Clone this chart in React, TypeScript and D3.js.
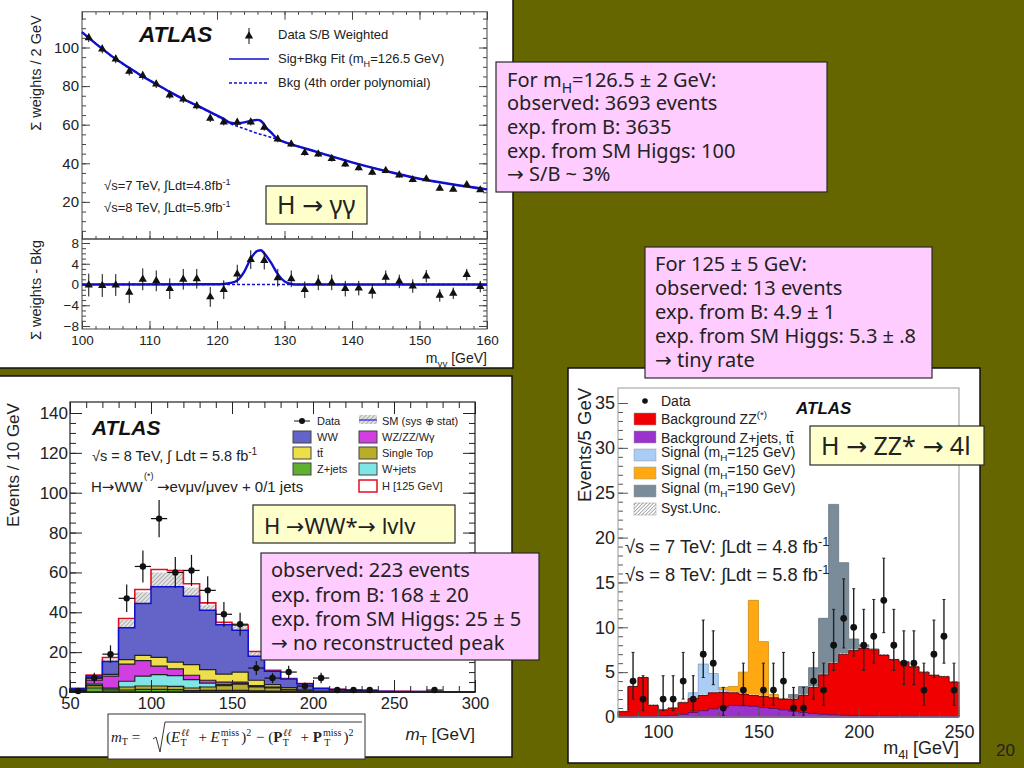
import { useRef, useEffect } from 'react';
import * as d3 from 'd3';

// H -> gamma gamma, weighted mass spectrum
const yyMass = [101, 103, 105, 107, 109, 111, 113, 115, 117, 119, 121, 123, 125, 127, 129, 131, 133, 135, 137, 139, 141, 143, 145, 147, 149, 151, 153, 155, 157, 159];
const yyData = [105, 99.2, 94, 87.6, 85.4, 81, 75.4, 73.3, 69.8, 63.3, 61.4, 61.2, 61.4, 58.6, 52.6, 50, 45.5, 44.8, 42.4, 39.6, 37.7, 35.3, 36.2, 33.9, 31.5, 31.9, 27, 26.5, 28.8, 26.2];
const yyResid = [-0.1, -0.2, -0.1, -1.5, 1, 0.7, -0.8, 1, 1.1, -2.4, -1, 2, 4.8, 4.6, 1.3, 1.1, -1, 0.4, 0.4, -0.8, -0.7, -1.3, 1.4, 0.6, -0.3, 1.6, -2.1, -1.7, 1.9, -0.4];
const yyErr = [2.2, 2.2, 2.1, 2.1, 2.1, 2, 2, 2, 1.9, 1.9, 1.8, 1.8, 1.8, 1.7, 1.7, 1.6, 1.6, 1.5, 1.5, 1.5, 1.4, 1.4, 1.3, 1.3, 1.3, 1.2, 1.2, 1.1, 1.1, 1.1];
const fitMass = [100, 101, 103, 105, 107, 109, 111, 113, 115, 117, 119, 121, 122, 123, 124, 125, 126, 126.5, 127.4, 128, 129, 130, 131, 132, 135, 140, 145, 150, 155, 160];
const fitValues = [108, 105, 99.3, 94, 89.5, 85, 81, 77, 73.3, 70, 66.5, 63, 61, 60.7, 61.2, 62, 62.5, 62, 58, 56, 52.5, 51, 49.8, 48.8, 45.7, 40.5, 36, 32, 29, 26.5];
const bkgMass = [100, 105, 110, 115, 120, 122, 124, 126, 128, 130, 135, 140, 145, 150, 155, 160];
const bkgValues = [108, 94, 83, 73.3, 64.5, 60.5, 58, 55.5, 53.5, 51, 45.7, 40.5, 36, 32, 29, 26.5];
const sigMass = [100, 120, 121, 122, 123, 124, 125, 126, 126.5, 127, 128, 129, 130, 131, 132, 160];
const sigValues = [0, 0.05, 0.1, 0.3, 0.8, 2.4, 5, 6.5, 6.6, 6, 4.2, 2, 0.6, 0.1, 0, 0];

// H -> WW*, transverse mass, 10 GeV bins from 50
const wwBins = d3.range(50, 300, 10);
const wwZjets = [0.3, 2, 1, 1, 1.3, 1.3, 1.2, 0.7, 0.8, 0.8, 0.8, 0.6, 0.5, 0.3, 0.2, 0, 0, 0, 0, 0, 0, 0, 0, 0, 0];
const wwSingleTop = [0.3, 1.2, 0.6, 1.5, 1.7, 1.7, 1.6, 1.3, 1.7, 2.4, 3.2, 1.9, 1.5, 0.7, 0.4, 0.1, 0, 0, 0, 0, 0, 0, 0, 0, 0];
const wwWjets = [0.1, 0.8, 0.4, 2.9, 5, 5.7, 5.4, 4.2, 2, 0.5, 0.2, 0.3, 0.3, 0, 0, 0, 0, 0, 0, 0, 0, 0, 0, 0, 0];
const wwDiboson = [0.2, 2, 6, 8.6, 7.7, 4.3, 3.4, 2.2, 1.4, 1.3, 0.8, 0.4, 0.2, 0.3, 0, 0, 0, 0, 0, 0, 0, 0, 0, 0, 0];
const wwTop = [0.3, 1, 0.8, 2.2, 2.7, 4.4, 3.4, 5.3, 5.3, 4, 5, 2.7, 1.2, 0.9, 0.5, 0.3, 0.2, 0, 0, 0, 0, 0, 0, 0, 0];
const wwWW = [0.5, 1, 6.5, 16, 26, 35.4, 37.8, 34.3, 29.8, 24.8, 21, 12.1, 6.7, 4.3, 3, 1.3, 1.1, 0.8, 0.6, 0.4, 0.3, 0.2, 0.2, 0.1, 0.1];
const wwUnc = [0, 0.5, 1, 4, 5.6, 7.2, 7.2, 4.5, 2.5, 0.7, 2, 2, 0.5, 0.3, 0.2, 0.1, 0, 0, 0, 0, 0, 0, 0, 0, 0];
const wwHiggs = [0, 0, 1, 0.7, 1.4, 1.5, 1, 1.8, 1.2, 0.5, 0.5, 0.3, 0, 0, 0, 0, 0, 0, 0, 0, 0, 0, 0, 0, 0];
const wwDataMt = [55, 65, 75, 85, 95, 105, 115, 125, 135, 145, 155, 165, 175, 185, 195, 205, 215, 225, 235, 275];
const wwData = [0.5, 7, 19, 47, 63, 87, 60, 61, 51, 39, 34, 12, 7, 10, 3, 7, 1, 1, 1, 1];
const wwDataErr = [1, 2.6, 4.4, 6.9, 8, 9.3, 7.7, 7.8, 7.1, 6.2, 5.8, 3.5, 2.6, 3.2, 1.7, 2.6, 1, 1, 1, 1];

// H -> ZZ* -> 4l, 5 GeV bins from 80
const zzBins = d3.range(80, 250, 5);
const zzPurple = [0.03, 0.03, 0.05, 0.05, 0.1, 0.2, 0.3, 0.5, 0.7, 0.9, 1.1, 1.3, 1.25, 1.2, 1.05, 0.95, 0.8, 0.65, 0.5, 0.4, 0.3, 0.25, 0.2, 0.15, 0.12, 0.1, 0.1, 0.08, 0.07, 0.06, 0.06, 0.05, 0.05, 0.04];
const zzRedTop = [0.6, 3.4, 4.4, 1.3, 0.8, 1, 1.6, 2.05, 2.4, 2.7, 2.75, 2.7, 2.55, 2.4, 2.3, 2.15, 2, 2, 2.4, 3.3, 4.7, 6, 7, 7.4, 7.65, 7.5, 6.9, 6.4, 6.15, 5.6, 5, 4.65, 4.5, 3.9];
const zzSig125 = [0, 0, 0, 0, 0, 0, 0.05, 0.65, 3.5, 2.15, 0.3, 0, 0, 0, 0, 0, 0, 0, 0, 0, 0, 0, 0, 0, 0, 0, 0, 0, 0, 0, 0, 0, 0, 0];
const zzSig150 = [0, 0, 0, 0, 0, 0, 0, 0, 0, 0, 0.55, 0.7, 2.45, 10.6, 6.1, 0.35, 0, 0, 0, 0, 0, 0, 0, 0, 0, 0, 0, 0, 0, 0, 0, 0, 0, 0];
const zzSig190 = [0, 0, 0, 0, 0, 0, 0, 0, 0, 0, 0, 0, 0, 0, 0, 0, 0.05, 0.5, 1, 2.2, 6.3, 17.7, 10.2, 1.3, 0.4, 0.1, 0, 0, 0, 0, 0, 0, 0, 0];
const zzDataMass = [87.5, 92.5, 102.5, 107.5, 112.5, 117.5, 122.5, 127.5, 132.5, 142.5, 152.5, 157.5, 162.5, 167.5, 172.5, 177.5, 182.5, 187.5, 192.5, 197.5, 202.5, 207.5, 212.5, 217.5, 222.5, 227.5, 232.5, 237.5, 242.5, 247.5];
const zzData = [4, 2, 2, 2, 4, 2, 7, 6, 1, 3, 3, 3, 4, 1, 1, 4, 3, 8, 11, 10, 8, 9, 13, 8, 6, 6, 3, 7, 9, 3];
const zzErrUp = [3.2, 2.6, 2.6, 2.6, 3.2, 2.6, 3.8, 3.6, 2.3, 3, 3, 3, 3.2, 2.3, 2.3, 3.2, 3, 4, 4.4, 4.3, 4, 4.1, 4.7, 4, 3.6, 3.6, 3, 3.8, 4.1, 3];
const zzErrDown = [2, 1.3, 1.3, 1.3, 2, 1.3, 2.6, 2.4, 0.8, 1.7, 1.7, 1.7, 2, 0.8, 0.8, 2, 1.7, 2.8, 3.3, 3.2, 2.8, 3, 3.6, 2.8, 2.4, 2.4, 1.7, 2.6, 3, 1.7];

// slide text
const yyBoxLines = ['For m_{H}=126.5 ± 2 GeV:', 'observed: 3693 events', 'exp. from B: 3635', 'exp. from SM Higgs: 100', '→ S/B ~ 3%'];
const zzBoxLines = ['For 125 ± 5 GeV:', 'observed: 13 events', 'exp. from B: 4.9 ± 1', 'exp. from SM Higgs: 5.3 ± .8', '→ tiny rate'];
const wwBoxLines = ['observed: 223 events', 'exp. from B: 168 ± 20', 'exp. from SM Higgs: 25 ± 5', '→ no reconstructed peak'];

const SANS = '"Liberation Sans", Arial, sans-serif';
const BOX_FONT = '"Noto Sans", sans-serif';
const INK = '#222';
type Sel = d3.Selection<any, any, any, any>;

// text with _{sub} and ^{sup} parts, arrows taken from DejaVu because the others are tiny
function rich(parent: Sel, x: number, y: number, str: string, size: number, font = SANS, anchor = 'start') {
  const t = parent.append('text').attr('x', x).attr('y', y).attr('font-size', size)
    .attr('font-family', font).attr('fill', INK).attr('text-anchor', anchor);
  let shift = 0;
  str.split(/([_^]\{[^}]*\}|→)/).filter(Boolean).forEach((part) => {
    const m = part.match(/^([_^])\{(.*)\}$/);
    const target = m ? (m[1] === '_' ? size * 0.3 : -size * 0.4) : 0;
    const span = t.append('tspan').attr('dy', target - shift).attr('font-size', m ? size * 0.7 : size).text(m ? m[2] : part);
    if (part === '→') span.attr('font-family', '"DejaVu Sans", sans-serif');
    shift = target;
  });
  return t;
}

function vlabel(parent: Sel, x: number, y: number, str: string, size: number) {
  parent.append('text').attr('transform', `translate(${x},${y}) rotate(-90)`).attr('text-anchor', 'middle')
    .attr('font-size', size).attr('font-family', SANS).attr('fill', INK).text(str);
}

function textBox(parent: Sel, x: number, y: number, w: number, h: number, fill: string) {
  parent.append('rect').attr('x', x).attr('y', y).attr('width', w).attr('height', h)
    .attr('fill', fill).attr('stroke', '#2a2a2a').attr('stroke-width', 1.2);
}

function noteBox(parent: Sel, x: number, y: number, w: number, h: number, lines: string[], textX: number, baselines: number[]) {
  textBox(parent, x, y, w, h, '#ffccff');
  lines.forEach((line, i) => rich(parent, textX, baselines[i], line, 20, BOX_FONT));
}

// one side of a frame: major or minor ticks pointing inwards
function ticks(parent: Sel, side: 'left' | 'right' | 'top' | 'bottom', scale: any, at: number, values: number[], len: number, color: string, label?: { size: number; pad: number }) {
  const make = { left: d3.axisLeft, right: d3.axisRight, top: d3.axisTop, bottom: d3.axisBottom }[side];
  const axis = make(scale).tickValues(values).tickSize(-len).tickSizeOuter(0)
    .tickPadding(label ? label.pad : 0)
    .tickFormat(label ? (d3.format('d') as any) : () => '');
  const horizontal = side === 'left' || side === 'right';
  const g = parent.append('g').attr('transform', horizontal ? `translate(${at},0)` : `translate(0,${at})`).call(axis as any);
  g.select('.domain').remove();
  g.attr('color', color);
  g.selectAll('text').attr('fill', INK).attr('font-family', SANS).attr('font-size', label ? label.size : 1);
}

function hatch(defs: Sel, id: string, back: string, ink: string, gap: number) {
  const p = defs.append('pattern').attr('id', id).attr('width', gap).attr('height', gap)
    .attr('patternUnits', 'userSpaceOnUse').attr('patternTransform', 'rotate(45)');
  p.append('rect').attr('width', gap).attr('height', gap).attr('fill', back);
  p.append('line').attr('x1', 0).attr('y1', 0).attr('x2', 0).attr('y2', gap).attr('stroke', ink).attr('stroke-width', 1);
}

function drawDiphoton(svg: Sel) {
  const g = svg.append('g');
  g.append('rect').attr('x', -2).attr('y', -2).attr('width', 515).attr('height', 370).attr('fill', '#fff').attr('stroke', '#111').attr('stroke-width', 1.5);
  const x = d3.scaleLinear().domain([100, 160]).range([82, 487]);
  const y = d3.scaleLinear().domain([0, 100]).range([240.5, 47.5]);
  const yLow = d3.scaleLinear().domain([-8, 8]).range([326, 243]);
  const frame = '#444';
  const blue = '#1010cc';

  const top = y(118.5);
  const mid = 239;
  const bottom = 329;
  const xMajor = d3.range(100, 161, 10);
  const xMinor = d3.range(100, 161, 2);

  // upper pad
  ticks(g, 'left', y, 82, [20, 40, 60, 80, 100], 8, frame, { size: 15, pad: 3 });
  ticks(g, 'left', y, 82, d3.range(5, 116, 5), 4, frame);
  ticks(g, 'right', y, 487, [20, 40, 60, 80, 100], 8, frame);
  ticks(g, 'right', y, 487, d3.range(5, 116, 5), 4, frame);
  ticks(g, 'top', x, top, xMajor, 8, frame);
  ticks(g, 'top', x, top, xMinor, 3, frame);
  ticks(g, 'bottom', x, mid, xMajor, 8, frame);
  ticks(g, 'bottom', x, mid, xMinor, 3, frame);
  g.append('rect').attr('x', 82).attr('y', top).attr('width', 405).attr('height', mid - top).attr('fill', 'none').attr('stroke', frame).attr('stroke-width', 1);

  const bkgLine = d3.line<number>().x((_, i) => x(bkgMass[i])).y((d) => y(d)).curve(d3.curveMonotoneX);
  const fitLine = d3.line<number>().x((_, i) => x(fitMass[i])).y((d) => y(d)).curve(d3.curveMonotoneX);
  g.append('path').attr('d', bkgLine(bkgValues)).attr('fill', 'none').attr('stroke', blue).attr('stroke-width', 1.6).attr('stroke-dasharray', '3,2');
  g.append('path').attr('d', fitLine(fitValues)).attr('fill', 'none').attr('stroke', blue).attr('stroke-width', 2.4);

  const tri = d3.symbol().type(d3.symbolTriangle).size(30);
  yyData.forEach((v, i) => {
    g.append('line').attr('x1', x(yyMass[i])).attr('x2', x(yyMass[i])).attr('y1', y(v - yyErr[i])).attr('y2', y(v + yyErr[i])).attr('stroke', '#111');
    g.append('path').attr('d', tri()).attr('transform', `translate(${x(yyMass[i])},${y(v)})`).attr('fill', '#111');
  });

  g.append('text').attr('x', 139).attr('y', 42).attr('font-size', 22.5).attr('font-weight', 'bold').attr('font-style', 'italic').attr('font-family', SANS).attr('fill', '#111').text('ATLAS');

  // legend
  g.append('line').attr('x1', 249).attr('x2', 249).attr('y1', 28).attr('y2', 44).attr('stroke', '#111');
  g.append('path').attr('d', tri()).attr('transform', 'translate(249,36)').attr('fill', '#111');
  rich(g, 278, 39, 'Data S/B Weighted', 13);
  g.append('line').attr('x1', 229).attr('x2', 269).attr('y1', 59).attr('y2', 59).attr('stroke', blue).attr('stroke-width', 1.6);
  rich(g, 278, 63, 'Sig+Bkg Fit  (m_{H}=126.5 GeV)', 13);
  g.append('line').attr('x1', 229).attr('x2', 269).attr('y1', 83).attr('y2', 83).attr('stroke', blue).attr('stroke-width', 1.6).attr('stroke-dasharray', '3,2');
  rich(g, 278, 87, 'Bkg (4th order polynomial)', 13);
  rich(g, 104, 190, '√s=7 TeV, ∫Ldt=4.8fb^{-1}', 13);
  rich(g, 104, 212, '√s=8 TeV, ∫Ldt=5.9fb^{-1}', 13);

  vlabel(g, 41, 73, 'Σ weights / 2 GeV', 14.5);
  vlabel(g, 41, 290, 'Σ weights - Bkg', 14.5);

  // residual pad
  ticks(g, 'left', yLow, 82, [-8, -4, 0, 4, 8], 8, frame, { size: 13.5, pad: 3 });
  ticks(g, 'left', yLow, 82, d3.range(-8, 9, 1), 4, frame);
  ticks(g, 'right', yLow, 487, [-8, -4, 0, 4, 8], 8, frame);
  ticks(g, 'right', yLow, 487, d3.range(-8, 9, 1), 4, frame);
  ticks(g, 'bottom', x, bottom, xMajor, 8, frame, { size: 13.5, pad: 6 });
  ticks(g, 'bottom', x, bottom, xMinor, 3, frame);
  g.append('rect').attr('x', 82).attr('y', mid).attr('width', 405).attr('height', bottom - mid).attr('fill', 'none').attr('stroke', frame).attr('stroke-width', 1);

  g.append('line').attr('x1', x(100)).attr('x2', x(160)).attr('y1', yLow(0)).attr('y2', yLow(0)).attr('stroke', blue).attr('stroke-width', 1.4).attr('stroke-dasharray', '3,2');
  const sigLine = d3.line<number>().x((_, i) => x(sigMass[i])).y((d) => yLow(d)).curve(d3.curveMonotoneX);
  g.append('path').attr('d', sigLine(sigValues)).attr('fill', 'none').attr('stroke', blue).attr('stroke-width', 2.4);
  yyResid.forEach((v, i) => {
    g.append('line').attr('x1', x(yyMass[i])).attr('x2', x(yyMass[i])).attr('y1', yLow(v - yyErr[i])).attr('y2', yLow(v + yyErr[i])).attr('stroke', '#111');
    g.append('path').attr('d', tri()).attr('transform', `translate(${x(yyMass[i])},${yLow(v)})`).attr('fill', '#111');
  });

  rich(g, 487, 363, 'm_{γγ} [GeV]', 14, SANS, 'end');
}

function drawWW(svg: Sel) {
  const g = svg.append('g');
  g.append('rect').attr('x', -2).attr('y', 376).attr('width', 514).attr('height', 381).attr('fill', '#fff').attr('stroke', '#111').attr('stroke-width', 1.5);
  const x = d3.scaleLinear().domain([50, 300]).range([70, 475]);
  const y = d3.scaleLinear().domain([0, 140]).range([692, 413]);
  const top = 402;
  const bottom = 692;
  const frame = '#222';

  // stack: Z+jets, single top, W+jets, WZ/ZZ/Wg, top pairs, WW
  const keys = ['zjets', 'stop', 'wjets', 'dib', 'top', 'ww'];
  const colors = ['#5fb030', '#b8ae2a', '#7fe5e5', '#d23fe0', '#ecdf4a', '#6464c8'];
  const table = wwBins.map((b, i) => ({ bin: b, zjets: wwZjets[i], stop: wwSingleTop[i], wjets: wwWjets[i], dib: wwDiboson[i], top: wwTop[i], ww: wwWW[i] }));
  const layers = d3.stack<any>().keys(keys)(table);
  const edge = (i: number) => x(i < wwBins.length ? wwBins[i] : 300);
  const step = (vals: number[]) => [...vals, vals[vals.length - 1]];
  const smTop = wwBins.map((_, i) => layers[5][i][1]);

  const uncArea = d3.area<number>().x((_, i) => edge(i)).y0((_, i) => y(step(smTop)[i])).y1((d) => y(d)).curve(d3.curveStepAfter);
  const redLine = d3.line<number>().x((_, i) => edge(i)).y((d) => y(d)).curve(d3.curveStepAfter);

  g.append('path').attr('d', uncArea(step(smTop.map((v, i) => v + wwUnc[i])))).attr('fill', 'url(#hatchWW)');
  g.append('path').attr('d', redLine(step(smTop.map((v, i) => v + wwUnc[i] + wwHiggs[i])))).attr('fill', 'none').attr('stroke', '#e01020').attr('stroke-width', 1.6);

  [...layers].reverse().forEach((layer) => {
    const c = colors[keys.indexOf(layer.key)];
    const area = d3.area<any>().x((_, i) => edge(i)).y0(y(0)).y1((d) => y(d[1])).curve(d3.curveStepAfter);
    g.append('path').attr('d', area([...layer, layer[layer.length - 1]]))
      .attr('fill', c).attr('stroke', layer.key === 'ww' ? '#1010cc' : '#222').attr('stroke-width', layer.key === 'ww' ? 1.5 : 1.2);
  });

  ticks(g, 'left', y, 70, d3.range(0, 141, 20), 12, frame, { size: 17, pad: 2 });
  ticks(g, 'left', y, 70, d3.range(0, 141, 5), 6, frame);
  ticks(g, 'right', y, 475, d3.range(0, 141, 20), 12, frame);
  ticks(g, 'right', y, 475, d3.range(0, 141, 5), 6, frame);
  ticks(g, 'bottom', x, bottom, d3.range(50, 301, 50), 12, frame, { size: 16.5, pad: 5 });
  ticks(g, 'bottom', x, bottom, d3.range(50, 301, 10), 6, frame);
  ticks(g, 'top', x, top, d3.range(50, 301, 50), 12, frame);
  ticks(g, 'top', x, top, d3.range(50, 301, 10), 6, frame);
  g.append('rect').attr('x', 70).attr('y', top).attr('width', 405).attr('height', bottom - top).attr('fill', 'none').attr('stroke', frame).attr('stroke-width', 1.2);

  wwData.forEach((v, i) => {
    const px = x(wwDataMt[i]);
    g.append('line').attr('x1', px).attr('x2', px).attr('y1', y(v - wwDataErr[i])).attr('y2', y(v + wwDataErr[i])).attr('stroke', '#111').attr('stroke-width', 1.2);
    g.append('line').attr('x1', x(wwDataMt[i] - 5)).attr('x2', x(wwDataMt[i] + 5)).attr('y1', y(v)).attr('y2', y(v)).attr('stroke', '#111').attr('stroke-width', 1.2);
    g.append('circle').attr('cx', px).attr('cy', y(v)).attr('r', 3.2).attr('fill', '#111');
  });

  vlabel(g, 19, 465, 'Events / 10 GeV', 17);
  g.append('text').attr('x', 92).attr('y', 435).attr('font-size', 21).attr('font-weight', 'bold').attr('font-style', 'italic').attr('font-family', SANS).attr('fill', '#111').text('ATLAS');
  rich(g, 92, 461, '√s = 8 TeV, ∫ Ldt = 5.8 fb^{-1}', 14.5);
  rich(g, 91, 492, 'H→WW', 15);
  rich(g, 144, 479, '(*)', 9);
  rich(g, 157, 492, '→evμv/μvev + 0/1 jets', 15);

  // legend
  const swatch = (sx: number, sy: number, fill: string, stroke = '#444') =>
    g.append('rect').attr('x', sx).attr('y', sy).attr('width', 18).attr('height', 12).attr('fill', fill).attr('stroke', stroke);
  g.append('line').attr('x1', 294).attr('x2', 310).attr('y1', 421).attr('y2', 421).attr('stroke', '#111');
  g.append('circle').attr('cx', 302).attr('cy', 421).attr('r', 3).attr('fill', '#111');
  rich(g, 317, 425, 'Data', 11);
  g.append('rect').attr('x', 359).attr('y', 415).attr('width', 18).attr('height', 9).attr('fill', 'url(#hatchWW)');
  g.append('line').attr('x1', 359).attr('x2', 377).attr('y1', 420).attr('y2', 420).attr('stroke', '#2222dd').attr('stroke-width', 1.2);
  rich(g, 382, 425, 'SM (sys ⊕ stat)', 11);
  swatch(293, 431, '#6464c8');
  rich(g, 317, 441, 'WW', 11);
  swatch(359, 431, '#d23fe0');
  rich(g, 382, 441, 'WZ/ZZ/Wγ', 11);
  swatch(293, 447, '#ecdf4a');
  rich(g, 317, 457, 'tt\u0304', 11);
  swatch(359, 447, '#b8ae2a');
  rich(g, 382, 457, 'Single Top', 11);
  swatch(293, 463, '#5fb030');
  rich(g, 317, 473, 'Z+jets', 11);
  swatch(359, 463, '#7fe5e5');
  rich(g, 382, 473, 'W+jets', 11);
  swatch(359, 480, '#fff', '#e01020').attr('stroke-width', 1.5);
  rich(g, 382, 490, 'H [125 GeV]', 11);

  // x title and formula box
  const mt = rich(g, 475, 740, 'm_{T} [GeV]', 17, SANS, 'end');
  mt.select('tspan').attr('font-style', 'italic');
  g.append('rect').attr('x', 108).attr('y', 714).attr('width', 257).attr('height', 45).attr('fill', '#fff').attr('stroke', '#333');
  const serif = '"Liberation Serif", serif';
  const formula = g.append('text').attr('x', 111).attr('y', 742).attr('font-family', serif).attr('fill', '#222');
  const parts: [string, number, number, number, boolean?][] = [
    ['m', 0, 0, 15, true], ['T', 0, 3, 10], [' = ', 0, -3, 15],
  ];
  parts.forEach(([t, dx, dy, s, it]) => formula.append('tspan').attr('dx', dx).attr('dy', dy).attr('font-size', s).attr('font-style', it ? 'italic' : 'normal').text(t));
  g.append('path').attr('d', 'M153,739 L156,737 L160,752 L165,722 L362,722').attr('fill', 'none').attr('stroke', '#222').attr('stroke-width', 0.9);
  const inner = g.append('text').attr('x', 166).attr('y', 742).attr('font-family', serif).attr('fill', '#222');
  const innerParts: [string, number, number, number, boolean?][] = [
    ['(', 0, 0, 15], ['E', 0, 0, 15, true], ['ℓℓ', 1, -6, 10, true], ['T', -9, 10, 10], [' + ', 8, -4, 15], ['E', 0, 0, 15, true], ['miss', 1, -6, 10], ['T', -17, 10, 10], [')', 13, -4, 15], ['2', 0, -6, 10], [' − (', 1, 6, 15],
    ['P', 0, 0, 15], ['ℓℓ', 1, -6, 10, true], ['T', -9, 10, 10], [' + ', 8, -4, 15], ['P', 0, 0, 15], ['miss', 1, -6, 10], ['T', -17, 10, 10], [')', 13, -4, 15], ['2', 0, -6, 10],
  ];
  innerParts.forEach(([t, dx, dy, s, it]) => inner.append('tspan').attr('dx', dx).attr('dy', dy).attr('font-size', s).attr('font-style', it ? 'italic' : 'normal').attr('font-weight', t === 'P' ? 'bold' : 'normal').text(t));
}

function drawZZ(svg: Sel) {
  const g = svg.append('g');
  g.append('rect').attr('x', 568).attr('y', 368).attr('width', 412).attr('height', 395).attr('fill', '#fff').attr('stroke', '#111').attr('stroke-width', 1.5);
  const x = d3.scaleLinear().domain([80, 250]).range([618, 959]);
  const y = d3.scaleLinear().domain([0, 35]).range([717, 403]);
  const frame = '#555';
  const edge = (i: number) => x(i < zzBins.length ? zzBins[i] : 250);
  const step = (vals: number[]) => [...vals, vals[vals.length - 1]];
  const area = d3.area<number>().x((_, i) => edge(i)).y0(y(0)).y1((d) => y(d)).curve(d3.curveStepAfter);

  const layer = (vals: number[], fill: string, stroke = 'none') =>
    g.append('path').attr('d', area(step(vals))).attr('fill', fill).attr('stroke', stroke).attr('stroke-width', 0.8);

  layer(zzRedTop.map((v, i) => v + zzSig190[i]), '#7a8c99', '#66757f');
  layer(zzRedTop.map((v, i) => v + zzSig150[i]), '#ffa811', '#cc8a10');
  layer(zzRedTop.map((v, i) => v + zzSig125[i]), '#a9cdf5', '#7f9fc5');
  layer(zzRedTop.map((v) => v + 0.12), 'url(#hatchZZ)');
  layer(zzRedTop, '#f00000', '#400000');
  layer(zzPurple, '#9933cc', '#501060');

  ticks(g, 'left', y, 618, d3.range(0, 36, 5), 10, frame, { size: 18, pad: 3 });
  ticks(g, 'left', y, 618, d3.range(0, 36, 1), 5, frame);
  ticks(g, 'bottom', x, 717, d3.range(100, 251, 50), 10, frame, { size: 18, pad: 8 });
  ticks(g, 'bottom', x, 717, d3.range(80, 251, 10), 5, frame);
  g.append('rect').attr('x', 618).attr('y', 388).attr('width', 341).attr('height', 329).attr('fill', 'none').attr('stroke', '#999').attr('stroke-width', 1);

  zzData.forEach((v, i) => {
    const px = x(zzDataMass[i]);
    const lo = y(v - zzErrDown[i]);
    const hi = y(v + zzErrUp[i]);
    g.append('line').attr('x1', px).attr('x2', px).attr('y1', lo).attr('y2', hi).attr('stroke', '#222').attr('stroke-width', 1.4);
    g.append('line').attr('x1', px - 1.5).attr('x2', px + 1.5).attr('y1', lo).attr('y2', lo).attr('stroke', '#222');
    g.append('line').attr('x1', px - 1.5).attr('x2', px + 1.5).attr('y1', hi).attr('y2', hi).attr('stroke', '#222');
    g.append('circle').attr('cx', px).attr('cy', y(v)).attr('r', 3.4).attr('fill', '#111');
  });

  vlabel(g, 591, 445, 'Events/5 GeV', 18.5);

  g.append('circle').attr('cx', 645).attr('cy', 401).attr('r', 2.8).attr('fill', '#111');
  rich(g, 661, 406, 'Data', 14);
  const swatch = (sy: number, fill: string, label: string, by: number) => {
    g.append('rect').attr('x', 634).attr('y', sy).attr('width', 22).attr('height', 12).attr('fill', fill).attr('stroke', '#999').attr('stroke-width', 0.5);
    rich(g, 661, by, label, 14);
  };
  swatch(413, '#f00000', 'Background ZZ^{(*)}', 424);
  swatch(431, '#9933cc', 'Background Z+jets, tt\u0304', 443);
  swatch(449, '#a9cdf5', 'Signal (m_{H}=125 GeV)', 457);
  swatch(467, '#ffa811', 'Signal (m_{H}=150 GeV)', 475);
  swatch(485, '#7a8c99', 'Signal (m_{H}=190 GeV)', 493);
  swatch(503, 'url(#hatchZZ)', 'Syst.Unc.', 513);

  g.append('text').attr('x', 796).attr('y', 414).attr('font-size', 17).attr('font-weight', 'bold').attr('font-style', 'italic').attr('font-family', SANS).attr('fill', '#111').text('ATLAS');
  rich(g, 625, 553, '√s = 7 TeV: ∫Ldt = 4.8 fb^{-1}', 18.3);
  rich(g, 625, 581, '√s = 8 TeV: ∫Ldt = 5.8 fb^{-1}', 18.3);
  rich(g, 959, 754, 'm_{4l} [GeV]', 18, SANS, 'end');
}

export default function App() {
  const svgRef = useRef<SVGSVGElement>(null);

  useEffect(() => {
    if (!svgRef.current) return;
    const svg = d3.select(svgRef.current);
    svg.selectAll('*').remove();

    svg.append('rect').attr('width', 1024).attr('height', 768).attr('fill', '#666600');
    const defs = svg.append('defs');
    hatch(defs, 'hatchWW', '#e4e4e4', '#777', 3);
    hatch(defs, 'hatchZZ', '#fff', '#555', 2.5);

    drawDiphoton(svg);
    drawWW(svg);
    drawZZ(svg);

    // boxes pasted over the plots
    noteBox(svg, 496, 62, 331, 130, yyBoxLines, 507, [87, 110, 134, 158, 181]);
    noteBox(svg, 645, 247, 287, 131, zzBoxLines, 655, [271, 295, 319, 343, 367]);
    noteBox(svg, 261, 553, 278, 107, wwBoxLines, 271, [577, 602, 626, 650]);

    textBox(svg, 266, 186, 101, 38, '#ffffcc');
    rich(svg, 277, 214, 'H → γγ', 25, BOX_FONT);
    textBox(svg, 253, 505, 202, 38, '#ffffcc');
    rich(svg, 264, 534, 'H →WW*→ lvlv', 22, BOX_FONT);
    textBox(svg, 810, 426, 174, 39, '#ffffcc');
    rich(svg, 821, 455, 'H → ZZ* → 4l', 25, BOX_FONT);

    svg.append('text').attr('x', 996).attr('y', 756).attr('font-size', 17).attr('font-family', SANS).attr('fill', '#222').text('20');
  }, []);

  return <svg ref={svgRef} width={1024} height={768} style={{ position: 'fixed', left: 0, top: 0 }} />;
}
